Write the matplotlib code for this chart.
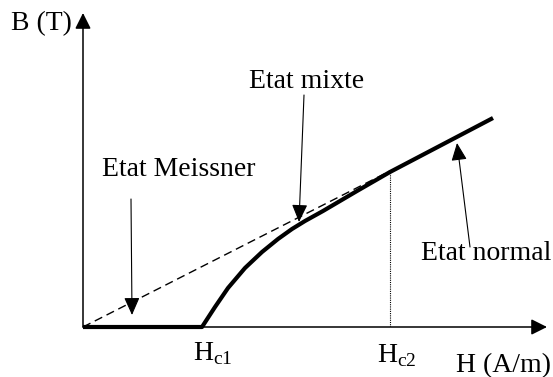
import matplotlib.pyplot as plt

plt.rcParams['font.family'] = 'Liberation Serif'
plt.rcParams['mathtext.fontset'] = 'custom'
plt.rcParams['mathtext.rm'] = 'Liberation Serif'

# Magnetisation curve B(H) of a type II superconductor (arbitrary units)
Hc1 = 1.19
Hc2 = 3.07
h_curve = [0, 1.19, 1.32, 1.45, 1.62, 1.79, 1.95, 2.09, 2.22, 2.40, 2.74, 3.07, 4.10]
b_curve = [0, 0, 0.20, 0.39, 0.59, 0.75, 0.88, 0.98, 1.06, 1.16, 1.36, 1.55, 2.09]

# B = mu0 H reference line
h_ref = [0, 3.07]
b_ref = [0, 1.56]

fig = plt.figure(figsize=(5.53, 3.77), dpi=100)
ax = fig.add_axes([83 / 553, 50 / 377, 464 / 553, 314 / 377])
ax.set_xlim(0, 4.64)
ax.set_ylim(0, 3.14)
ax.axis('off')

axis_arrow = '-|>,head_length=0.8,head_width=0.4'
label_arrow = '-|>,head_length=0.9,head_width=0.4'

# axes with arrow heads
for end in [(4.64, 0), (0, 3.14)]:
    ax.annotate('', xy=end, xytext=(0, 0),
                arrowprops=dict(arrowstyle=axis_arrow, color='black', lw=1.1,
                                mutation_scale=12, shrinkA=0, shrinkB=0),
                annotation_clip=False)

ax.plot(h_ref, b_ref, color='black', lw=1.0, ls=(0, (6, 3.5)), zorder=2)
ax.plot(h_curve, b_curve, color='black', lw=3.0, solid_joinstyle='round',
        solid_capstyle='butt', zorder=3, clip_on=False)
ax.plot([Hc2, Hc2], [0, b_curve[h_curve.index(Hc2)]], color='black',
        lw=0.8, ls=(0, (1, 1)), zorder=1)

fs = 20
ax.text(-0.11, 2.97, 'B (T)', fontsize=fs, ha='right', va='baseline')
ax.text(4.68, -0.45, 'H (A/m)', fontsize=fs, ha='right', va='baseline')
ax.text(Hc1 - 0.09, -0.33, r'H$_{\mathrm{c1}}$', fontsize=fs, ha='left', va='baseline')
ax.text(Hc2 - 0.13, -0.35, r'H$_{\mathrm{c2}}$', fontsize=fs, ha='left', va='baseline')

# state labels with pointers
labels = ['Etat Meissner', 'Etat mixte', 'Etat normal']
text_pos = [(0.19, 1.51, 'left'), (2.24, 2.39, 'center'), (4.68, 0.67, 'right')]
tails = [(0.48, 1.28), (2.21, 2.32), (3.87, 0.80)]
tips = [(0.49, 0.12), (2.16, 1.05), (3.74, 1.84)]
for lab, (tx, ty, ha), tail, tip in zip(labels, text_pos, tails, tips):
    ax.text(tx, ty, lab, fontsize=fs, ha=ha, va='baseline')
    ax.annotate('', xy=tip, xytext=tail,
                arrowprops=dict(arrowstyle=label_arrow, color='black', lw=0.8,
                                mutation_scale=12, shrinkA=0, shrinkB=0))

fig.savefig('out.png', dpi=100)
